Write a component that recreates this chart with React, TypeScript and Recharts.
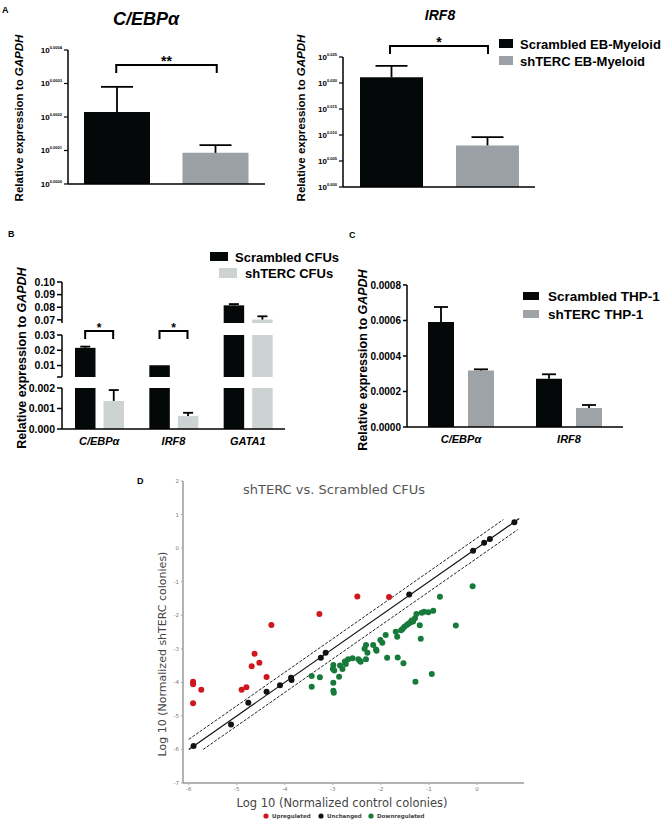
import React from 'react';
import { BarChart, Bar, XAxis, YAxis, Cell, ReferenceLine, ScatterChart, Scatter } from 'recharts';

const FONT = '"Liberation Sans", Arial, Helvetica, sans-serif';
const VFONT = '"DejaVu Sans", Verdana, sans-serif';
const BLACK = '#050808';
const GRAY_A = '#9aa0a6';
const GRAY_B = '#cdd3d3';
const GRAY_C = '#9ea3a8';

// ---------- Panel A ----------
const aCategories = ['Scrambled EB-Myeloid', 'shTERC EB-Myeloid'];
const aColors = [BLACK, GRAY_A];
const aCebpValues = [0.000215, 0.000093];
const aCebpErrors = [0.000075, 0.000023];
const aCebpTicks = [0, 0.0001, 0.0002, 0.0003, 0.0004];
const aCebpBracketY = 0.000355;
const aIrf8Values = [0.0211, 0.008];
const aIrf8Errors = [0.0022, 0.0016];
const aIrf8Ticks = [0, 0.005, 0.01, 0.015, 0.02, 0.025];
const aIrf8BracketY = 0.0271;

// ---------- Panel B ----------
const bGenes = ['C/EBPα', 'IRF8', 'GATA1'];
const bScrambled = [0.0216, 0.0102, 0.0815];
const bScrambledErr = [0.0008, 0.0002, 0.001];
const bShTERC = [0.00137, 0.00063, 0.0702];
const bShTERCErr = [0.00053, 0.00016, 0.0026];
const bTopDomain = [0.0675, 0.1];
const bTopTicks = [0.07, 0.08, 0.09, 0.1];
const bMidDomain = [0.0025, 0.03];
const bMidTicks = [0.0025, 0.01, 0.02, 0.03];
const bLowDomain = [0, 0.002];
const bLowTicks = [0, 0.001, 0.002];
const bSignificant = ['C/EBPα', 'IRF8'];
const bBracketY = 0.0326;

// ---------- Panel C ----------
const cGenes = ['C/EBPα', 'IRF8'];
const cScrambled = [0.000592, 0.000272];
const cScrambledErr = [0.000084, 0.000025];
const cShTERC = [0.000318, 0.000107];
const cShTERCErr = [0.000007, 0.000017];
const cTicks = [0, 0.0002, 0.0004, 0.0006, 0.0008];

// ---------- Panel D ----------
const upregulated = [
  { x: -5.91, y: -3.98 }, { x: -5.91, y: -4.06 }, { x: -5.74, y: -4.22 }, { x: -5.91, y: -4.62 },
  { x: -4.9, y: -4.22 }, { x: -4.8, y: -4.15 }, { x: -4.69, y: -3.52 }, { x: -4.63, y: -3.15 },
  { x: -4.53, y: -3.42 }, { x: -4.38, y: -3.84 }, { x: -4.28, y: -2.29 }, { x: -3.28, y: -1.96 },
  { x: -2.49, y: -1.44 }, { x: -1.83, y: -1.46 },
];
const unchanged = [
  { x: -5.9, y: -5.9 }, { x: -5.12, y: -5.26 }, { x: -4.76, y: -4.61 }, { x: -4.38, y: -4.28 },
  { x: -4.1, y: -4.09 }, { x: -3.87, y: -3.86 }, { x: -3.86, y: -3.93 }, { x: -3.25, y: -3.27 },
  { x: -3.15, y: -3.12 }, { x: -1.41, y: -1.38 }, { x: -0.08, y: -0.08 }, { x: 0.15, y: 0.16 },
  { x: 0.27, y: 0.27 }, { x: 0.78, y: 0.77 },
];
const downregulated = [
  { x: -0.09, y: -1.14 }, { x: -0.77, y: -1.45 }, { x: -0.44, y: -2.31 }, { x: -0.91, y: -1.87 },
  { x: -1.01, y: -1.91 }, { x: -1.1, y: -1.9 }, { x: -1.15, y: -1.93 }, { x: -1.26, y: -1.96 },
  { x: -1.29, y: -2.09 }, { x: -1.33, y: -2.19 }, { x: -1.38, y: -2.21 }, { x: -1.42, y: -2.25 },
  { x: -1.46, y: -2.29 }, { x: -1.51, y: -2.34 }, { x: -1.55, y: -2.41 }, { x: -1.19, y: -2.3 },
  { x: -1.17, y: -2.7 }, { x: -1.66, y: -2.64 }, { x: -1.69, y: -2.49 }, { x: -1.9, y: -2.59 },
  { x: -2.01, y: -2.74 }, { x: -1.97, y: -2.82 }, { x: -2.16, y: -2.89 }, { x: -2.31, y: -2.89 },
  { x: -2.28, y: -3.12 }, { x: -2.09, y: -3.06 }, { x: -1.87, y: -3.27 }, { x: -1.65, y: -3.26 },
  { x: -1.53, y: -3.43 }, { x: -0.94, y: -3.75 }, { x: -1.28, y: -3.98 }, { x: -2.31, y: -3.31 },
  { x: -2.44, y: -3.36 }, { x: -2.47, y: -3.31 }, { x: -2.59, y: -3.28 }, { x: -2.68, y: -3.31 },
  { x: -2.75, y: -3.38 }, { x: -2.8, y: -3.6 }, { x: -2.85, y: -3.5 }, { x: -2.99, y: -3.48 },
  { x: -3.0, y: -3.6 }, { x: -2.87, y: -3.83 }, { x: -3.27, y: -3.85 }, { x: -3.44, y: -3.81 },
  { x: -2.99, y: -4.01 }, { x: -3.44, y: -4.13 }, { x: -2.97, y: -3.65 }, { x: -2.99, y: -4.25 },
  { x: -2.98, y: -4.31 }, { x: -2.73, y: -3.45 }, { x: -2.42, y: -3.39 }, { x: -2.1, y: -3.02 },
  { x: -1.58, y: -2.45 }, { x: -1.36, y: -2.16 }, { x: -2.34, y: -3.0 },
];
const identityLine = [{ x: -6, y: -6 }, { x: 0.88, y: 0.88 }];
const upperLine = [{ x: -6, y: -5.7 }, { x: 0.55, y: 0.85 }];
const lowerLine = [{ x: -5.7, y: -6 }, { x: 0.85, y: 0.55 }];
const dXTicks = [-6, -5, -4, -3, -2, -1, 0];
const dYTicks = [-7, -6, -5, -4, -3, -2, -1, 0, 1, 2];

// ---------- helpers ----------
const errShape = (cap: number) => (props: any) => {
  const { x, y, width, height } = props;
  if (x == null || y == null || width == null || height == null || isNaN(y) || !(height > 0.5)) return <g />;
  const cx = x + width / 2;
  return (
    <g>
      <line x1={cx} x2={cx} y1={y + height} y2={y} stroke="#000" strokeWidth={1.8} />
      <line x1={cx - cap / 2} x2={cx + cap / 2} y1={y} y2={y} stroke="#000" strokeWidth={1.8} />
    </g>
  );
};

const bracket = (half: number, leg: number, mark: string, markSize: number) => (props: any) => {
  const { x1, y1, x2 } = props;
  if (x1 == null || y1 == null) return <g />;
  const l = Math.min(x1, x2) - half;
  const r = Math.max(x1, x2) + half;
  return (
    <g>
      <path d={`M${l},${y1 + leg}V${y1}H${r}V${y1 + leg}`} fill="none" stroke="#000" strokeWidth={2} />
      <text x={(l + r) / 2} y={y1 + 1} textAnchor="middle" fontFamily={FONT} fontSize={markSize} fontWeight={700} fill="#000">
        {mark}
      </text>
    </g>
  );
};

const PowTick = (decimals: number) => (props: any) => {
  const { x, y, payload } = props;
  return (
    <text x={x} y={y} textAnchor="end" fontFamily={FONT} fontWeight={700} fill="#000">
      <tspan fontSize={8} dy={2.8}>10</tspan>
      <tspan fontSize={4} dy={-4.2}>{Number(payload.value).toFixed(decimals)}</tspan>
    </text>
  );
};

const GeneTick = (props: any) => {
  const { x, y, payload } = props;
  return (
    <text x={x} y={y + 8} textAnchor="middle" fontFamily={FONT} fontSize={11} fontWeight={700} fontStyle="italic" fill="#000">
      {payload.value}
    </text>
  );
};

const axisStyle = { stroke: '#000', strokeWidth: 1.5 };

// ---------- Panel A charts ----------
function PanelA({ left, width, marginTop, yWidth, right, xHeight, values, errors, ticks, decimals, domain, bracketY, mark, barSize, cap }: any) {
  const data = aCategories.map((c, i) => ({ name: c, v: values[i], e: errors[i] }));
  return (
    <div style={{ position: 'absolute', left, top: 0, width, height: 200 }}>
      <BarChart width={width} height={200} data={data} margin={{ top: marginTop, right, bottom: 0, left: 0 }} barSize={barSize}>
        <XAxis dataKey="name" height={xHeight} tick={false} tickLine={false} axisLine={axisStyle} />
        <YAxis type="number" domain={domain} ticks={ticks} width={yWidth} tickSize={4} axisLine={axisStyle}
          tickLine={{ stroke: '#000', strokeWidth: 1.2 }} tick={PowTick(decimals)} interval={0} />
        <Bar dataKey="v" stackId="a" isAnimationActive={false}>
          {data.map((d, i) => <Cell key={d.name} fill={aColors[i]} />)}
        </Bar>
        <Bar dataKey="e" stackId="a" isAnimationActive={false} shape={errShape(cap)} />
        <ReferenceLine ifOverflow="visible" segment={[{ x: aCategories[0], y: bracketY }, { x: aCategories[1], y: bracketY }]}
          shape={bracket(1, 8, mark, 14)} />
      </BarChart>
    </div>
  );
}

// ---------- Panel B segment ----------
const bData = bGenes.map((g, i) => ({ gene: g, s: bScrambled[i], se: bScrambledErr[i], t: bShTERC[i], te: bShTERCErr[i] }));

function BSegment({ top, marginTop, plotH, showX, domain, ticks, digits, hideFirst, brackets }: any) {
  const xh = showX ? 22 : 0;
  const height = marginTop + plotH + xh + (showX ? 0 : 2);
  return (
    <div style={{ position: 'absolute', left: 0, top, width: 300, height }}>
      <BarChart width={300} height={height} data={bData} margin={{ top: marginTop, right: 15, bottom: showX ? 0 : 2, left: 0 }}
        barGap={8} barSize={20.5}>
        <XAxis dataKey="gene" hide={!showX} height={22} axisLine={axisStyle} tickLine={false} tick={GeneTick} interval={0} />
        <YAxis type="number" domain={domain} ticks={ticks} allowDataOverflow width={62} tickSize={5} interval={0}
          axisLine={axisStyle} tickLine={{ stroke: '#000', strokeWidth: 1.5 }}
          tickFormatter={(v: number, i: number) => (hideFirst && i === 0 ? '' : v.toFixed(digits))}
          tick={{ fontFamily: FONT, fontSize: 10.5, fontWeight: 700, fill: '#000' }} />
        <Bar dataKey="s" stackId="s" fill={BLACK} isAnimationActive={false} />
        <Bar dataKey="se" stackId="s" isAnimationActive={false} shape={errShape(10)} />
        <Bar dataKey="t" stackId="t" fill={GRAY_B} isAnimationActive={false} />
        <Bar dataKey="te" stackId="t" isAnimationActive={false} shape={errShape(10)} />
        {brackets &&
          bSignificant.map((g) => (
            <ReferenceLine key={g} ifOverflow="visible" segment={[{ x: g, y: bBracketY }, { x: g, y: bBracketY }]}
              shape={bracket(14, 8, '*', 12)} />
          ))}
      </BarChart>
    </div>
  );
}

const cData = cGenes.map((g, i) => ({ gene: g, s: cScrambled[i], se: cScrambledErr[i], t: cShTERC[i], te: cShTERCErr[i] }));

const dot = (color: string) => (props: any) => <circle cx={props.cx} cy={props.cy} r={3} fill={color} />;

const YLabel = ({ x, y, size }: any) => (
  <text transform={`translate(${x},${y}) rotate(-90)`} textAnchor="middle" fontFamily={FONT} fontSize={size} fontWeight={700} fill="#000">
    Relative expression to <tspan fontStyle="italic">GAPDH</tspan>
  </text>
);

export default function App() {
  return (
    <div style={{ position: 'absolute', left: 0, top: 0, width: 666, height: 826, background: '#fff', overflow: 'hidden' }}>
      <PanelA left={0} width={280} marginTop={50} yWidth={68} right={15} xHeight={16}
        values={aCebpValues} errors={aCebpErrors} ticks={aCebpTicks} decimals={4} domain={[0, 0.0004]}
        bracketY={aCebpBracketY} mark="**" barSize={66} cap={32} />
      <PanelA left={290} width={260} marginTop={57} yWidth={53} right={15} xHeight={13}
        values={aIrf8Values} errors={aIrf8Errors} ticks={aIrf8Ticks} decimals={3} domain={[0, 0.025]}
        bracketY={aIrf8BracketY} mark="*" barSize={63} cap={32} />

      <BSegment top={277} marginTop={5} plotH={41} showX={false} domain={bTopDomain} ticks={bTopTicks} digits={2} hideFirst={false} />
      <BSegment top={315} marginTop={20} plotH={42} showX={false} domain={bMidDomain} ticks={bMidTicks} digits={2} hideFirst={true} brackets />
      <BSegment top={383} marginTop={5} plotH={41} showX={true} domain={bLowDomain} ticks={bLowTicks} digits={3} hideFirst={false} />

      <div style={{ position: 'absolute', left: 340, top: 265, width: 300, height: 187 }}>
        <BarChart width={300} height={187} data={cData} margin={{ top: 20, right: 17, bottom: 0, left: 0 }} barGap={14} barSize={26}>
          <XAxis dataKey="gene" height={25} axisLine={axisStyle} tickLine={false} tick={GeneTick} interval={0} />
          <YAxis type="number" domain={[0, 0.0008]} ticks={cTicks} width={67} tickSize={4} interval={0}
            axisLine={axisStyle} tickLine={{ stroke: '#000', strokeWidth: 1.5 }}
            tickFormatter={(v: number) => v.toFixed(4)}
            tick={{ fontFamily: FONT, fontSize: 10, fontWeight: 700, fill: '#000' }} />
          <Bar dataKey="s" stackId="s" fill={BLACK} isAnimationActive={false} />
          <Bar dataKey="se" stackId="s" isAnimationActive={false} shape={errShape(14)} />
          <Bar dataKey="t" stackId="t" fill={GRAY_C} isAnimationActive={false} />
          <Bar dataKey="te" stackId="t" isAnimationActive={false} shape={errShape(14)} />
        </BarChart>
      </div>

      <div style={{ position: 'absolute', left: 130, top: 460, width: 410, height: 340 }}>
        <ScatterChart width={410} height={340} margin={{ top: 21, right: 16, bottom: 0, left: 0 }}>
          <XAxis type="number" dataKey="x" domain={[-6.12, 0.98]} ticks={dXTicks} allowDataOverflow height={17} interval={0}
            axisLine={{ stroke: '#9a9a9a', strokeWidth: 1.5 }} tickLine={{ stroke: '#aaa' }} tickSize={2}
            tick={{ fontFamily: VFONT, fontSize: 5.5, fill: '#777' }} />
          <YAxis type="number" dataKey="y" domain={[-7, 2]} ticks={dYTicks} allowDataOverflow width={53} interval={0}
            axisLine={{ stroke: '#9a9a9a', strokeWidth: 1.5 }} tickLine={{ stroke: '#aaa' }} tickSize={2}
            tick={{ fontFamily: VFONT, fontSize: 5.5, fill: '#777' }} />
          <ReferenceLine segment={identityLine} stroke="#111" strokeWidth={1.2} ifOverflow="visible" />
          <ReferenceLine segment={upperLine} stroke="#222" strokeWidth={1} strokeDasharray="3 1.5" ifOverflow="visible" />
          <ReferenceLine segment={lowerLine} stroke="#222" strokeWidth={1} strokeDasharray="3 1.5" ifOverflow="visible" />
          <Scatter data={downregulated} fill="#167a3a" shape={dot('#167a3a')} isAnimationActive={false} />
          <Scatter data={upregulated} fill="#d0161e" shape={dot('#d0161e')} isAnimationActive={false} />
          <Scatter data={unchanged} fill="#111" shape={dot('#111')} isAnimationActive={false} />
        </ScatterChart>
      </div>

      <svg width={666} height={826} style={{ position: 'absolute', left: 0, top: 0, pointerEvents: 'none' }}>
        {/* panel letters */}
        <text x={2} y={13} fontFamily={FONT} fontSize={9} fontWeight={700}>A</text>
        <text x={8} y={237} fontFamily={FONT} fontSize={9} fontWeight={700}>B</text>
        <text x={349} y={238} fontFamily={FONT} fontSize={9} fontWeight={700}>C</text>
        <text x={137} y={484} fontFamily={FONT} fontSize={9} fontWeight={700}>D</text>

        {/* Panel A */}
        <text x={146} y={25} textAnchor="middle" fontFamily={FONT} fontSize={18} fontWeight={700} fontStyle="italic">C/EBPα</text>
        <text x={440} y={20} textAnchor="middle" fontFamily={FONT} fontSize={14} fontWeight={700} fontStyle="italic">IRF8</text>
        <YLabel x={23} y={118} size={11.5} />
        <YLabel x={305} y={118} size={11.5} />
        <rect x={499} y={39} width={14} height={9} fill={BLACK} />
        <text x={520} y={49} fontFamily={FONT} fontSize={13} fontWeight={700}>Scrambled EB-Myeloid</text>
        <rect x={499} y={56} width={14} height={9} fill={GRAY_A} />
        <text x={520} y={66} fontFamily={FONT} fontSize={13} fontWeight={700}>shTERC EB-Myeloid</text>

        {/* Panel B */}
        <YLabel x={26} y={358} size={12.5} />
        <rect x={210} y={252} width={18} height={9} fill={BLACK} />
        <text x={235} y={262} fontFamily={FONT} fontSize={13} fontWeight={700}>Scrambled CFUs</text>
        <rect x={219} y={268} width={18} height={10} fill={GRAY_B} />
        <text x={245} y={278} fontFamily={FONT} fontSize={13} fontWeight={700}>shTERC CFUs</text>

        {/* Panel C */}
        <YLabel x={367} y={360} size={12.5} />
        <rect x={523} y={292} width={16} height={8} fill={BLACK} />
        <text x={548} y={301} fontFamily={FONT} fontSize={13.5} fontWeight={700}>Scrambled THP-1</text>
        <rect x={523} y={310} width={16} height={8} fill={GRAY_C} />
        <text x={548} y={319} fontFamily={FONT} fontSize={13.5} fontWeight={700}>shTERC THP-1</text>

        {/* Panel D */}
        <text x={334} y={494} textAnchor="middle" fontFamily={VFONT} fontSize={13} fill="#555">shTERC vs. Scrambled CFUs</text>
        <text transform="translate(166,654) rotate(-90)" textAnchor="middle" fontFamily={VFONT} fontSize={11} fill="#444">
          Log 10 (Normalized shTERC colonies)
        </text>
        <text x={342} y={807} textAnchor="middle" fontFamily={VFONT} fontSize={11.5} fill="#444">Log 10 (Normalized control colonies)</text>
        <circle cx={266} cy={816} r={2.6} fill="#d0161e" />
        <text x={272} y={818} fontFamily={VFONT} fontSize={5.5} fontWeight={700} fill="#444">Upregulated</text>
        <circle cx={321} cy={816} r={2.6} fill="#111" />
        <text x={327} y={818} fontFamily={VFONT} fontSize={5.5} fontWeight={700} fill="#444">Unchanged</text>
        <circle cx={371} cy={816} r={2.6} fill="#167a3a" />
        <text x={377} y={818} fontFamily={VFONT} fontSize={5.5} fontWeight={700} fill="#444">Downregulated</text>
      </svg>
    </div>
  );
}
